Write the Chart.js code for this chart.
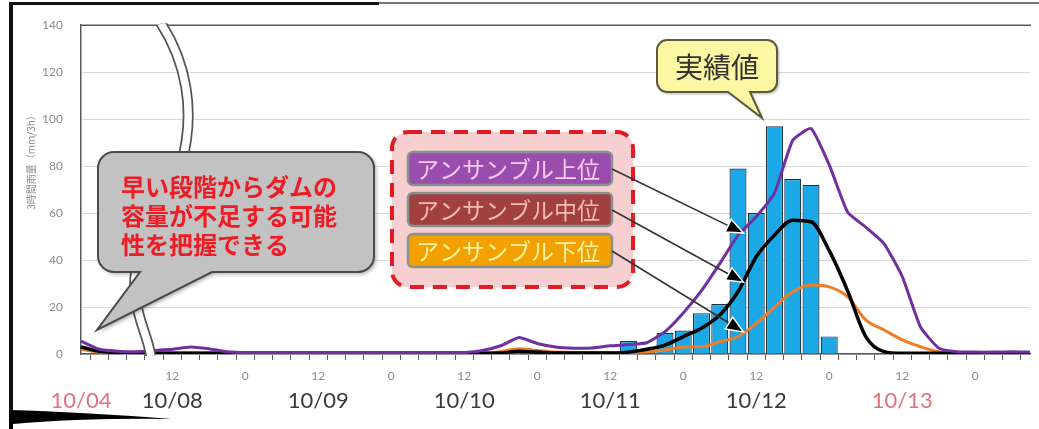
<!DOCTYPE html>
<html lang="ja">
<head>
<meta charset="UTF-8">
<title>3時間雨量 アンサンブル予測</title>
<script src="https://cdn.jsdelivr.net/npm/chart.js@4"></script>
<style>
  body { margin: 0; background: #fff; }
  .wrap { width: 1039px; height: 429px; }
  canvas { background: #fff; }
</style>
</head>
<body>
<div class="wrap"><canvas id="rainChart" width="1039" height="429"></canvas></div>
<script>
// 3-hour steps; the first four belong to 10/04, shown before the axis break
const times = [
  '10/04 00', '10/04 03', '10/04 06', '10/04 09',
  '10/08 09', '10/08 12', '10/08 15', '10/08 18', '10/08 21',
  '10/09 00', '10/09 03', '10/09 06', '10/09 09', '10/09 12', '10/09 15', '10/09 18', '10/09 21',
  '10/10 00', '10/10 03', '10/10 06', '10/10 09', '10/10 12', '10/10 15', '10/10 18', '10/10 21',
  '10/11 00', '10/11 03', '10/11 06', '10/11 09', '10/11 12', '10/11 15', '10/11 18', '10/11 21',
  '10/12 00', '10/12 03', '10/12 06', '10/12 09', '10/12 12', '10/12 15', '10/12 18', '10/12 21',
  '10/13 00', '10/13 03', '10/13 06', '10/13 09', '10/13 12', '10/13 15', '10/13 18', '10/13 21',
  '10/14 00', '10/14 03', '10/14 06', '10/14 09'
];
const breakIndex = 3;
const redDates = ['10/04', '10/13'];

// observed 3h rainfall (mm/3h)
const observed = [
  null, null, null, null,
  null, null, null, null, null,
  null, null, null, null, null, null, null, null,
  null, null, null, null, null, null, null, null,
  null, null, null, null, null, 5.5, 1.5, 9,
  10, 17.4, 21.3, 79, 60, 97, 74.5, 72,
  7.5, null, null, null, null, null, null, null,
  null, null, null, null
];
const ensembleUpper = [
  5.5, 2, 1.2, 1,
  1.5, 2, 3, 2.2, 1,
  0.6, 0.5, 0.5, 0.5, 0.5, 0.5, 0.5, 0.5,
  0.5, 0.5, 0.5, 0.5, 0.6, 1.5, 3.5, 7,
  4.5, 3, 2.5, 2.6, 3.5, 4, 4.8, 9.5,
  17.5, 27, 38.5, 50.5, 58.5, 68.5, 91, 96,
  80.5, 60.5, 54, 47, 33, 11.5, 2.5, 1,
  0.8, 0.8, 1, 0.8
];
const ensembleMiddle = [
  3, 1.2, 0.6, 0.5,
  0.4, 0.3, 0.3, 0.3, 0.3,
  0.3, 0.3, 0.3, 0.3, 0.3, 0.3, 0.3, 0.3,
  0.3, 0.3, 0.3, 0.3, 0.3, 0.3, 0.4, 1.2,
  0.8, 0.4, 0.4, 0.4, 0.4, 0.8, 2, 3.8,
  7.4, 11, 16.6, 26.5, 41.4, 50.6, 57, 56.3,
  44, 27, 7.4, 1, 0.3, 0.3, 0.3, 0.3,
  0.3, 0.3, 0.3, 0.3
];
const ensembleLower = [
  2, 0.8, 0.5, 0.5,
  0.5, 0.5, 0.5, 0.5, 0.5,
  0.5, 0.5, 0.5, 0.5, 0.5, 0.5, 0.5, 0.5,
  0.5, 0.5, 0.5, 0.5, 0.5, 0.5, 1, 2.2,
  1.5, 0.8, 0.6, 0.6, 0.6, 0.6, 1, 1.7,
  3, 3.1, 5.2, 7.4, 13, 20, 26.5, 29.4,
  28.6, 24.4, 14.5, 10.2, 6, 3.1, 1, 0.6,
  0.6, 0.6, 0.6, 0.6
];
const yTicks = [0, 20, 40, 60, 80, 100, 120, 140];

const legendNames = ['アンサンブル上位', 'アンサンブル中位', 'アンサンブル下位'];
const arrowValues = [51.5, 30.6, 9.4];   // where the arrows touch each line
const arrowIndex = 36.3;

const jp = "'Noto Sans CJK JP', sans-serif";

function rrect(ctx, x, y, w, h, r) {
  ctx.beginPath();
  ctx.moveTo(x + r, y);
  ctx.arcTo(x + w, y, x + w, y + h, r);
  ctx.arcTo(x + w, y + h, x, y + h, r);
  ctx.arcTo(x, y + h, x, y, r);
  ctx.arcTo(x, y, x + w, y, r);
  ctx.closePath();
}

// rounded box with a tail leaving the bottom edge between a and b
function callout(ctx, x, y, w, h, r, a, b, tx, ty) {
  ctx.beginPath();
  ctx.moveTo(x + r, y);
  ctx.lineTo(x + w - r, y);
  ctx.arcTo(x + w, y, x + w, y + r, r);
  ctx.lineTo(x + w, y + h - r);
  ctx.arcTo(x + w, y + h, x + w - r, y + h, r);
  ctx.lineTo(b, y + h);
  ctx.lineTo(tx, ty);
  ctx.lineTo(a, y + h);
  ctx.lineTo(x + r, y + h);
  ctx.arcTo(x, y + h, x, y + h - r, r);
  ctx.lineTo(x, y + r);
  ctx.arcTo(x, y, x + r, y, r);
  ctx.closePath();
}

function arrow(ctx, x1, y1, x2, y2) {
  const ang = Math.atan2(y2 - y1, x2 - x1);
  const len = 17, half = 7;
  const bx = x2 - len * Math.cos(ang), by = y2 - len * Math.sin(ang);
  ctx.strokeStyle = '#333';
  ctx.lineWidth = 1.6;
  ctx.beginPath();
  ctx.moveTo(x1, y1);
  ctx.lineTo(bx, by);
  ctx.stroke();
  ctx.beginPath();
  ctx.moveTo(x2, y2);
  ctx.lineTo(bx + half * Math.sin(ang), by - half * Math.cos(ang));
  ctx.lineTo(bx - half * Math.sin(ang), by + half * Math.cos(ang));
  ctx.closePath();
  ctx.fillStyle = '#000';
  ctx.fill();
  ctx.strokeStyle = '#fff';
  ctx.lineWidth = 1.5;
  ctx.stroke();
}

const decorations = {
  id: 'decorations',
  beforeDraw(chart) {
    const ctx = chart.ctx;
    ctx.save();
    // scanned page edge
    ctx.fillStyle = '#111';
    ctx.fillRect(9, 3, 4, 426);
    ctx.fillRect(9, 2, 370, 3);
    ctx.fillStyle = '#777';
    ctx.fillRect(379, 2, 660, 2);
    ctx.fillStyle = '#000';
    ctx.beginPath();
    ctx.moveTo(9, 410);
    ctx.quadraticCurveTo(80, 412, 172, 419);
    ctx.quadraticCurveTo(80, 418, 13, 424);
    ctx.lineTo(13, 429);
    ctx.lineTo(9, 429);
    ctx.closePath();
    ctx.fill();
    // y axis title
    ctx.translate(31, 160);
    ctx.rotate(-Math.PI / 2);
    ctx.fillStyle = '#8c8c8c';
    ctx.font = '10px ' + jp;
    ctx.textAlign = 'center';
    ctx.textBaseline = 'middle';
    ctx.fillText('3時間雨量（mm/3h）', 0, 0);
    ctx.restore();
  },
  afterDatasetsDraw(chart) {
    const ctx = chart.ctx;
    const area = chart.chartArea;
    const xs = chart.scales.x, ys = chart.scales.y;
    ctx.save();

    // plot frame (top edge; left/bottom come from the axes)
    ctx.strokeStyle = '#595959';
    ctx.lineWidth = 1.5;
    ctx.beginPath();
    ctx.moveTo(area.left, area.top);
    ctx.lineTo(area.right + 1, area.top);
    ctx.stroke();

    // axis break (double wavy line)
    const bx = (xs.getPixelForValue(breakIndex) + xs.getPixelForValue(breakIndex + 1)) / 2;
    const t = area.top, b = area.bottom;
    ctx.save();
    ctx.beginPath();
    ctx.rect(area.left, area.top - 2, area.right - area.left, area.bottom - area.top + 4);
    ctx.clip();
    ctx.beginPath();
    ctx.moveTo(bx + 16, t - 2);
    ctx.bezierCurveTo(bx + 40, t + 35, bx + 52, t + 85, bx + 36, t + 140);
    ctx.bezierCurveTo(bx + 22, t + 185, bx - 18, t + 225, bx - 9, t + 275);
    ctx.bezierCurveTo(bx - 5, t + 300, bx + 2, b - 20, bx + 6, b + 2);
    ctx.lineCap = 'butt';
    ctx.strokeStyle = '#555';
    ctx.lineWidth = 11;
    ctx.stroke();
    ctx.strokeStyle = '#fff';
    ctx.lineWidth = 7.5;
    ctx.stroke();
    ctx.restore();

    // gray callout
    ctx.save();
    ctx.shadowColor = 'rgba(0,0,0,0.35)';
    ctx.shadowBlur = 4;
    ctx.shadowOffsetX = 2;
    ctx.shadowOffsetY = 2;
    callout(ctx, 98, 152, 276, 120, 16, 140, 212, 97, 330);
    ctx.fillStyle = '#c2c2c2';
    ctx.fill();
    ctx.restore();
    callout(ctx, 98, 152, 276, 120, 16, 140, 212, 97, 330);
    ctx.strokeStyle = '#4a4a4a';
    ctx.lineWidth = 2;
    ctx.stroke();
    ctx.fillStyle = '#ee1c25';
    ctx.font = 'bold 24px ' + jp;
    ctx.textAlign = 'left';
    ctx.textBaseline = 'middle';
    ctx.fillText('早い段階からダムの', 121, 187);
    ctx.fillText('容量が不足する可能', 121, 216);
    ctx.fillText('性を把握できる', 121, 245);

    // yellow callout
    ctx.save();
    ctx.shadowColor = 'rgba(0,0,0,0.3)';
    ctx.shadowBlur = 3;
    ctx.shadowOffsetX = 2;
    ctx.shadowOffsetY = 2;
    callout(ctx, 657, 40, 120, 52, 10, 728, 750, 762, 118);
    ctx.fillStyle = '#fbf7a3';
    ctx.fill();
    ctx.restore();
    callout(ctx, 657, 40, 120, 52, 10, 728, 750, 762, 118);
    ctx.strokeStyle = '#5b5b3b';
    ctx.lineWidth = 2;
    ctx.stroke();
    ctx.fillStyle = '#333';
    ctx.font = '28px ' + jp;
    ctx.textAlign = 'center';
    ctx.fillText('実績値', 717, 67);

    // pink dashed legend box
    rrect(ctx, 392, 132, 241, 155, 16);
    ctx.fillStyle = '#f7cfd0';
    ctx.fill();
    ctx.setLineDash([14, 9]);
    ctx.strokeStyle = '#e31b23';
    ctx.lineWidth = 4;
    ctx.stroke();
    ctx.setLineDash([]);

    const boxFill = ['#9a4dae', '#a23f3f', '#f2a100'];
    const boxText = ['#f7cdf2', '#f6bcae', '#fff4a6'];
    const boxY = [152, 193, 234];
    ctx.font = '23px ' + jp;
    ctx.textAlign = 'left';
    legendNames.forEach((name, i) => {
      rrect(ctx, 408, boxY[i], 204, 33, 5);
      ctx.fillStyle = boxFill[i];
      ctx.fill();
      ctx.strokeStyle = '#86948f';
      ctx.lineWidth = 2.5;
      ctx.stroke();
      ctx.fillStyle = boxText[i];
      ctx.fillText(name, 416, boxY[i] + 17);
    });

    // arrows from labels to the lines
    const tipX = xs.getPixelForValue(Math.floor(arrowIndex)) +
      (arrowIndex % 1) * (xs.getPixelForValue(1) - xs.getPixelForValue(0));
    arrowValues.forEach((v, i) => {
      arrow(ctx, 612, boxY[i] + 17, tipX, ys.getPixelForValue(v));
    });

    ctx.restore();
  }
};

new Chart(document.getElementById('rainChart'), {
  data: {
    labels: times,
    datasets: [
      {
        type: 'line', label: legendNames[0], data: ensembleUpper,
        borderColor: '#7030a0', borderWidth: 3, pointRadius: 0,
        tension: 0.15, order: 1
      },
      {
        type: 'line', label: legendNames[1], data: ensembleMiddle,
        borderColor: '#000000', borderWidth: 3.5, pointRadius: 0,
        cubicInterpolationMode: 'monotone', order: 2
      },
      {
        type: 'line', label: legendNames[2], data: ensembleLower,
        borderColor: '#f07d28', borderWidth: 3, pointRadius: 0,
        cubicInterpolationMode: 'monotone', order: 3
      },
      {
        type: 'bar', label: '実績値', data: observed,
        backgroundColor: '#1aa9e6', borderColor: '#1c2f44', borderWidth: 1.2,
        barPercentage: 0.93, categoryPercentage: 1.0, order: 10
      }
    ]
  },
  options: {
    responsive: false,
    animation: false,
    layout: { padding: { left: 20, top: 25, right: 1, bottom: 0 } },
    plugins: { legend: { display: false }, tooltip: { enabled: false } },
    scales: {
      x: {
        type: 'category', position: 'bottom', offset: false, weight: 0,
        grid: { display: true, drawOnChartArea: false, tickLength: 6, color: '#595959' },
        border: { color: '#595959', width: 1.5 },
        ticks: {
          autoSkip: false, maxRotation: 0, padding: 9,
          color: '#8c8c8c', font: { family: 'Lato', size: 12 },
          callback: (v, i) => {
            if (i <= breakIndex) return '';
            const hh = times[i].slice(6);
            return hh === '00' ? '0' : hh === '12' ? '12' : '';
          }
        },
        afterFit: s => { s.height = 32; }
      },
      x2: {
        type: 'category', position: 'bottom', offset: false, weight: 1,
        grid: { display: false, drawTicks: false },
        border: { display: false },
        ticks: {
          autoSkip: false, maxRotation: 0, padding: 2,
          font: { family: 'Lato', size: 22 },
          color: c => redDates.includes(times[c.index].slice(0, 5)) ? '#e0727c' : '#3a3a3a',
          callback: (v, i) => {
            const d = times[i].slice(0, 5);
            if (i === 0) return d;
            if (i > breakIndex && times[i].slice(6) === '12') return d;
            return '';
          }
        },
        afterFit: s => { s.height = 43; }
      },
      y: {
        min: 0, max: 140,
        afterBuildTicks: s => { s.ticks = yTicks.map(v => ({ value: v })); },
        grid: { color: '#d9d9d9', lineWidth: 1, drawTicks: false },
        border: { color: '#595959', width: 1.5 },
        ticks: { padding: 18, color: '#8c8c8c', font: { family: 'Lato', size: 12 } },
        afterFit: s => { s.width = 61; }
      }
    }
  },
  plugins: [decorations]
});
</script>
</body>
</html>
